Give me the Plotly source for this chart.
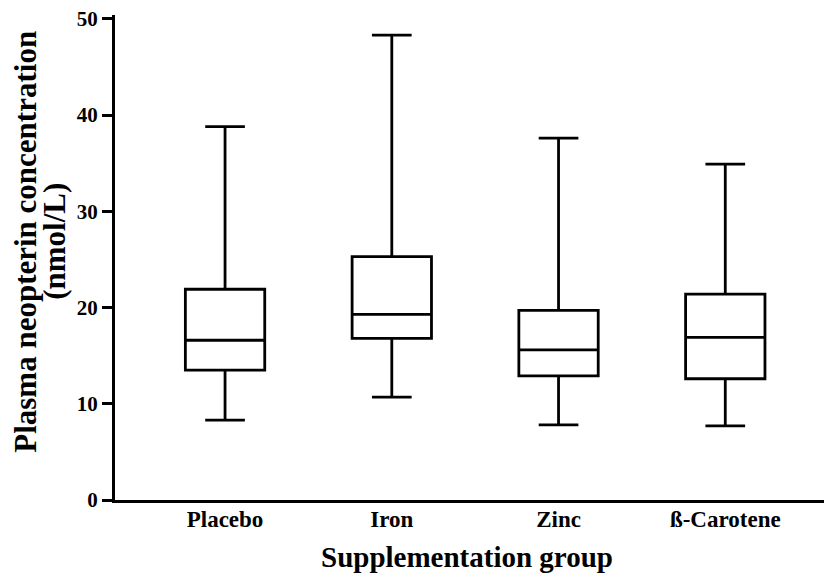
import plotly.graph_objects as go

categories = ["Placebo", "Iron", "Zinc", "ß-Carotene"]
upper_whisker = [38.8, 48.3, 37.6, 34.9]
q3_values = [21.9, 25.3, 19.7, 21.4]
median_values = [16.6, 19.3, 15.6, 16.9]
q1_values = [13.5, 16.8, 12.9, 12.6]
lower_whisker = [8.3, 10.7, 7.8, 7.7]
y_tick_values = [0, 10, 20, 30, 40, 50]

FONT = "Liberation Serif, Times New Roman, serif"

# page has an 8px body margin; plot area on page: x 115..832, y 15..500.5
PL, PR, PT, PB = 115, 832, 15, 500.5
PW, PH = PR - PL, PB - PT


def px_x(p):
    return (p - PL) / PW


def px_y(p):
    return (PB - p) / PH


fig = go.Figure()
fig.add_trace(go.Box(
    x=categories,
    q1=q1_values,
    median=median_values,
    q3=q3_values,
    lowerfence=lower_whisker,
    upperfence=upper_whisker,
    fillcolor="white",
    line=dict(color="black", width=2.8),
    whiskerwidth=0.5,
    boxpoints=False,
    showlegend=False,
    hoverinfo="skip",
))

fig.update_layout(
    width=824, height=570,
    margin=dict(l=107, r=0, t=7, b=77.5, autoexpand=False),
    paper_bgcolor="white", plot_bgcolor="white",
    boxgap=0.32,
    font=dict(family=FONT, color="black"),
    xaxis=dict(
        range=[-0.66, 3.64],
        showline=True, linecolor="black", linewidth=3,
        ticks="", showgrid=False, zeroline=False,
        ticklabelstandoff=-4,
        tickfont=dict(family=FONT, size=23, weight="bold", color="black"),
        fixedrange=True,
    ),
    yaxis=dict(
        range=[0, 50.4],
        tickvals=y_tick_values,
        ticktext=[str(v) for v in y_tick_values],
        showline=True, linecolor="black", linewidth=3,
        ticks="outside", ticklen=10, tickwidth=3, tickcolor="black",
        showgrid=False, zeroline=False,
        ticklabeloverflow="allow",
        tickfont=dict(family=FONT, size=21, weight="bold", color="black"),
        fixedrange=True,
    ),
    annotations=[
        dict(text="Plasma neopterin concentration", xref="paper", yref="paper",
             x=px_x(26), y=px_y(242), xanchor="center", yanchor="middle",
             textangle=-90, showarrow=False,
             font=dict(family=FONT, size=31, weight="bold", color="black")),
        dict(text="(nmol/L)", xref="paper", yref="paper",
             x=px_x(55), y=px_y(242), xanchor="center", yanchor="middle",
             textangle=-90, showarrow=False,
             font=dict(family=FONT, size=31, weight="bold", color="black")),
        dict(text="Supplementation group", xref="paper", yref="paper",
             x=px_x(466.5), y=px_y(558), xanchor="center", yanchor="middle",
             showarrow=False,
             font=dict(family=FONT, size=29, weight="bold", color="black")),
    ],
)

fig.write_html("out.html")
